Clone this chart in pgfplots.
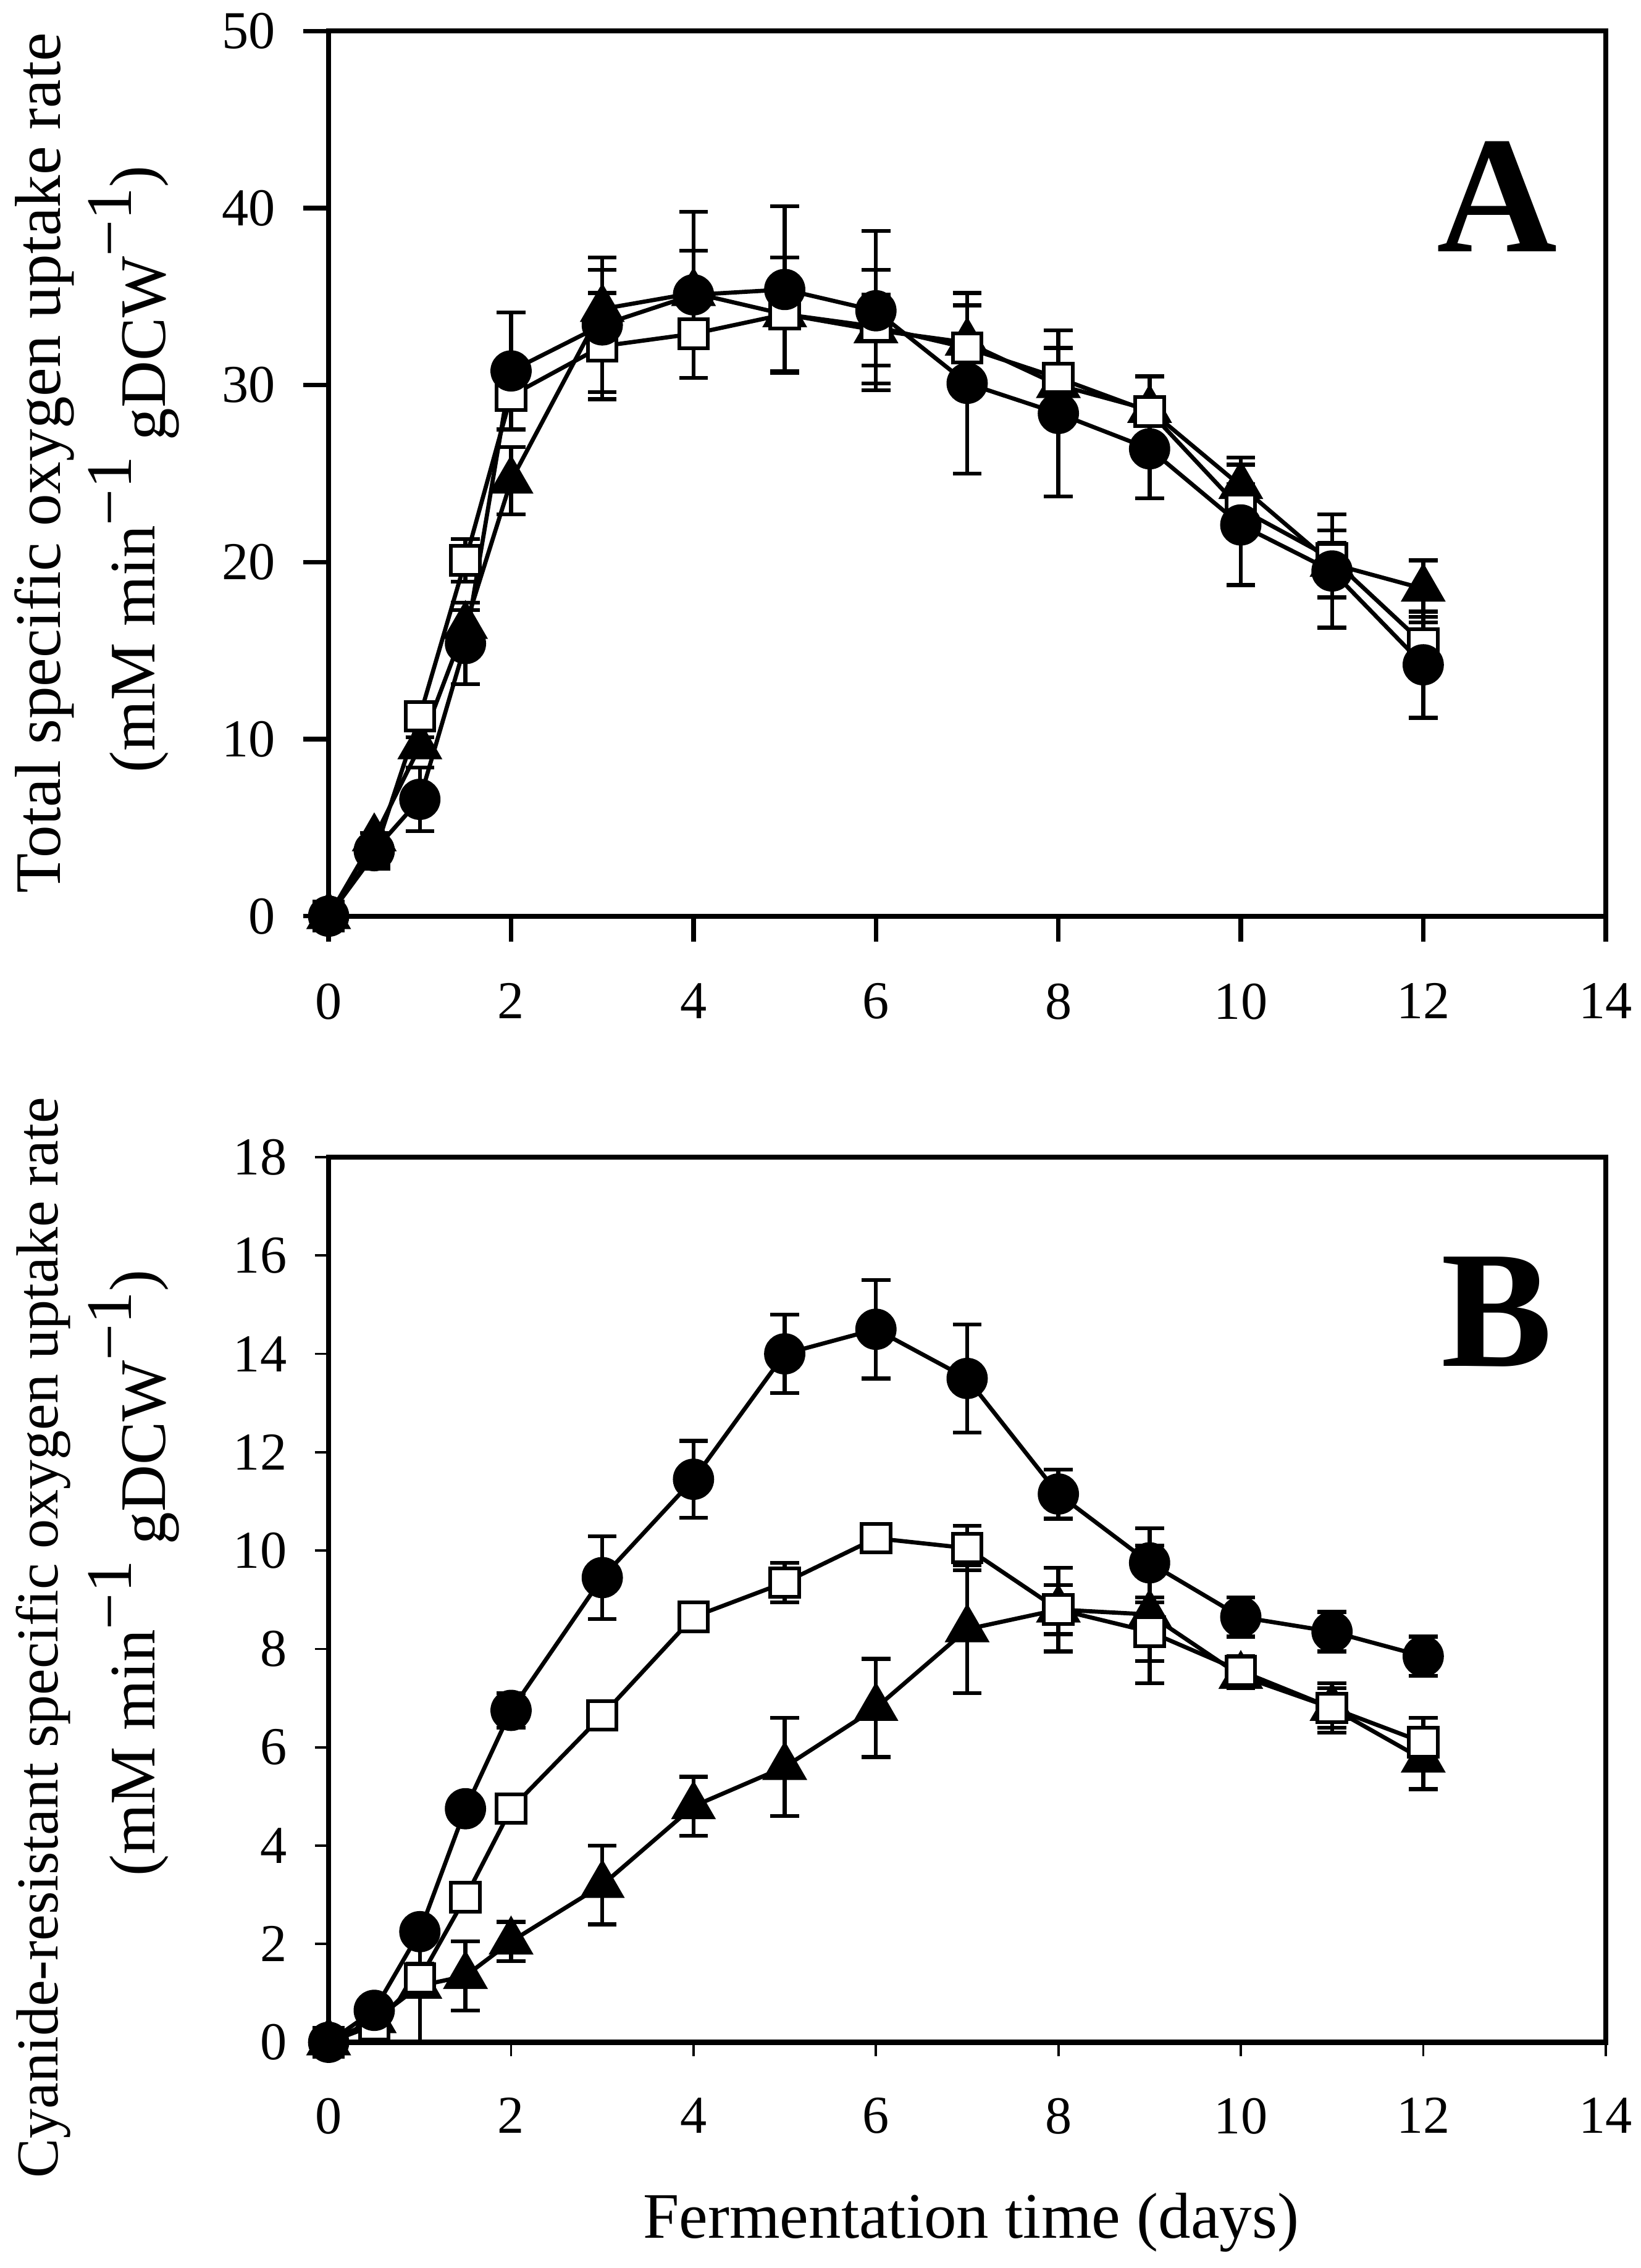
\documentclass[border=0pt]{standalone}
\usepackage{fontspec}
\setmainfont{Liberation Serif}
\usepackage{pgfplots}
\usepackage{pgfplotstable}
\pgfplotsset{compat=1.18}

% panel A: total specific oxygen uptake rate
\pgfplotstableread{
x    c     ce   s     se   t     te
0    0     0.3  0     0.3  0     0.3
0.5  3.7   0.4  3.5   0.3  4.4   0.3
1    6.6   1.8  11.3  0.5  9.6   0.5
1.5  15.4  2.3  20.1  1.2  16.4  0.9
2    30.8  3.3  29.4  0.6  24.6  1.9
3    33.4  3.8  32.2  3.0  34.3  2.2
4    35.1  4.7  32.9  0.8  35.2  2.4
5    35.4  4.7  34.0  0.6  34.0  3.2
6    34.2  4.5  33.3  3.2  33.1  2.0
7    30.1  5.1  32.1  0.6  32.4  2.1
8    28.4  4.7  30.4  1.7  30.0  1.0
9    26.4  2.8  28.5  2.0  28.6  1.9
10   22.1  3.4  23.0  1.4  24.3  1.6
11   19.5  3.2  20.2  0.9  19.9  1.9
12   14.2  3.0  15.4  1.2  18.5  1.6
}\tabA

% panel B: cyanide-resistant specific oxygen uptake rate
\pgfplotstableread{
x    c     ce    s     se    t     te
0    0     0.1   0     0.1   0     0.1
0.5  0.65  0.1   0.35  0.1   0.45  0.1
1    2.25  0.2   1.3   0.3   1.15  1.15
1.5  4.75  0.2   2.95  0.2   1.35  0.7
2    6.75  0.35  4.75  0.2   2.05  0.4
3    9.45  0.84  6.65  0.2   3.2   0.8
4    11.45 0.78  8.65  0.15  4.8   0.6
5    14.0  0.8   9.35  0.4   5.6   1.0
6    14.5  1.0   10.25 0.15  6.8   1.0
7    13.5  1.1   10.05 0.45  8.4   1.3
8    11.15 0.5   8.8   0.5   8.8   0.85
9    9.75  0.7   8.35  0.6   8.7   1.4
10   8.65  0.4   7.55  0.3   7.45  0.25
11   8.35  0.4   6.8   0.4   6.8   0.5
12   7.85  0.4   6.1   0.5   5.75  0.6
}\tabB

\newcommand{\lbl}{\fontsize{14}{16}\selectfont}
\newcommand{\unitline}{(mM min\raisebox{0.36em}{−1} \raisebox{-0.16em}{gDCW}\raisebox{0.36em}{−1})}

\pgfplotsset{
  panel/.style={
    scale only axis, width=275.5pt, height=191pt,
    xmin=0, xmax=14, xtick={0,2,...,14},
    axis line style={line width=1.1pt},
    tick align=outside, xtick pos=left, ytick pos=left,
    tick label style={font=\fontsize{11.5}{13}\selectfont},
    xticklabel style={yshift=-5.5pt},
    yticklabel style={xshift=-2.5pt},
    /pgf/number format/assume math mode=true,
    clip=false,
  },
  ebar/.style={error bars/.cd, y dir=both, y explicit,
    error bar style={line width=0.85pt, solid},
    error mark options={rotate=90, line width=0.85pt, mark size=3.1pt, solid}},
  circ/.style={black, line width=0.9pt, mark=*, mark size=4pt,
    mark options={fill=black}, ebar},
  sq/.style={black, line width=0.9pt, mark=square*, mark size=3.1pt,
    mark options={fill=white, line width=0.8pt}, ebar},
  tri/.style={black, line width=0.9pt, mark=triangle*, mark size=4.7pt,
    mark options={fill=black}, ebar},
}

\begin{document}
\begin{tikzpicture}
\useasboundingbox (-70.9pt,-48.7pt) rectangle (283.1pt,440.7pt);

\begin{axis}[panel, at={(0pt,243pt)}, ymin=0, ymax=50, ytick={0,10,...,50},
    major tick length=5.5pt, every tick/.style={line width=1pt}]
  \addplot[tri] table[x=x, y=t, y error=te]{\tabA};
  \addplot[sq] table[x=x, y=s, y error=se]{\tabA};
  \addplot[circ] table[x=x, y=c, y error=ce]{\tabA};
  \node[anchor=base, font=\fontsize{36}{40}\selectfont\bfseries] at (rel axis cs:0.915,0.7505) {A};
  \node[rotate=90, anchor=base, font=\lbl] at ([xshift=-57.9pt]rel axis cs:0,0.512) {Total specific oxygen uptake rate};
  \node[rotate=90, anchor=base, font=\lbl] at ([xshift=-37.5pt]rel axis cs:0,0.505) {\unitline};
\end{axis}

\begin{axis}[panel, at={(0pt,0pt)}, ymin=0, ymax=18, ytick={0,2,...,18},
    major tick length=3pt, every tick/.style={line width=0.5pt}]
  \addplot[tri] table[x=x, y=t, y error=te]{\tabB};
  \addplot[sq] table[x=x, y=s, y error=se]{\tabB};
  \addplot[circ] table[x=x, y=c, y error=ce]{\tabB};
  \node[anchor=base, font=\fontsize{36}{40}\selectfont\bfseries] at (rel axis cs:0.915,0.7636) {B};
  \node[rotate=90, anchor=base, font=\fontsize{12.8}{15}\selectfont] at ([xshift=-58.5pt]rel axis cs:0,0.457) {Cyanide-resistant specific oxygen uptake rate};
  \node[rotate=90, anchor=base, font=\lbl] at ([xshift=-37.5pt]rel axis cs:0,0.53) {\unitline};
  \node[anchor=base, font=\lbl] at ([yshift=-42.3pt]rel axis cs:0.503,0) {Fermentation time (days)};
\end{axis}
\end{tikzpicture}
\end{document}
